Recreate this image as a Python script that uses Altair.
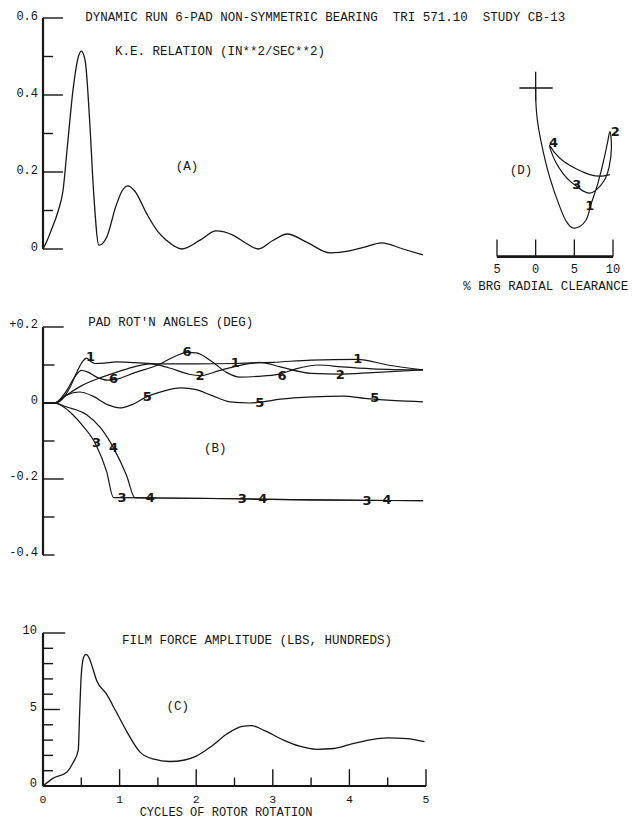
import altair as alt
import pandas as pd

# ---------------- text ----------------
NB = "\u00a0"
TITLE = f"DYNAMIC RUN 6-PAD NON-SYMMETRIC BEARING{NB}{NB}TRI 571.10{NB}{NB}STUDY CB-13"
A_TITLE = "K.E. RELATION (IN**2/SEC**2)"
B_TITLE = "PAD ROT'N ANGLES (DEG)"
C_TITLE = "FILM FORCE AMPLITUDE (LBS, HUNDREDS)"
X_TITLE = "CYCLES OF ROTOR ROTATION"
D_TITLE = "% BRG RADIAL CLEARANCE"

# ---------------- panel A : K.E. relation ----------------
A_X = [0, 0.05, 0.1, 0.2, 0.26, 0.32, 0.39, 0.45, 0.5, 0.55, 0.61, 0.66, 0.73, 0.83, 0.95,
       1.03, 1.11, 1.2, 1.35, 1.5, 1.61, 1.81, 2.05, 2.26, 2.48, 2.65, 2.81, 3.0, 3.19, 3.44,
       3.75, 4.0, 4.2, 4.42, 4.7, 4.96]
A_Y = [0, 0.02, 0.045, 0.1, 0.15, 0.27, 0.41, 0.49, 0.514, 0.49, 0.33, 0.15, 0.01, 0.03, 0.11,
       0.15, 0.164, 0.15, 0.093, 0.045, 0.023, 0.0, 0.023, 0.047, 0.036, 0.015, 0.0, 0.022, 0.039, 0.018,
       -0.01, -0.005, 0.005, 0.016, 0.0, -0.015]
A_TICKS = [0, 0.1, 0.2, 0.3, 0.4, 0.5, 0.6]
A_LABELS = ["0", "0.2", "0.4", "0.6"]
A_LABEL_V = [0, 0.2, 0.4, 0.6]

# ---------------- panel B : pad rotation angles ----------------
B1_X = [0, 0.15, 0.25, 0.35, 0.45, 0.52, 0.57, 0.62, 0.68, 0.8, 0.95, 1.2, 1.5, 2.0, 2.5, 3.0, 3.5, 4.1, 4.5, 4.96]
B1_Y = [0, 0, 0.01, 0.04, 0.085, 0.11, 0.118, 0.11, 0.104, 0.105, 0.108, 0.106, 0.103, 0.103, 0.104, 0.107, 0.113, 0.115, 0.1, 0.087]
B2_X = [0, 0.15, 0.3, 0.5, 0.8, 1.1, 1.4, 1.65, 1.92, 2.05, 2.3, 2.66, 2.83, 3.1, 3.5, 3.88, 4.3, 4.96]
B2_Y = [0, 0, 0.02, 0.045, 0.07, 0.09, 0.103, 0.092, 0.075, 0.072, 0.085, 0.103, 0.107, 0.095, 0.078, 0.076, 0.08, 0.087]
B6_X = [0, 0.15, 0.3, 0.42, 0.5, 0.58, 0.7, 0.85, 0.95, 1.2, 1.5, 1.75, 1.88, 2.0, 2.2, 2.4, 2.57, 2.8, 3.09, 3.3, 3.6, 3.9, 4.3, 4.96]
B6_Y = [0, 0, 0.03, 0.07, 0.086, 0.082, 0.068, 0.06, 0.062, 0.08, 0.1, 0.125, 0.133, 0.132, 0.11, 0.08, 0.068, 0.07, 0.076, 0.09, 0.1, 0.095, 0.09, 0.087]
B5_X = [0, 0.15, 0.3, 0.48, 0.65, 0.85, 1.0, 1.15, 1.35, 1.55, 1.8, 2.0, 2.2, 2.44, 2.7, 2.83, 3.1, 3.52, 3.92, 4.2, 4.6, 4.96]
B5_Y = [0, 0, 0.02, 0.029, 0.018, -0.005, -0.013, -0.005, 0.016, 0.03, 0.04, 0.035, 0.02, 0.003, 0.0, 0.002, 0.01, 0.016, 0.018, 0.012, 0.006, 0.003]
B3_X = [0, 0.15, 0.25, 0.39, 0.52, 0.68, 0.83, 0.92, 1.5, 2.5, 3.5, 4.96]
B3_Y = [0, 0, -0.008, -0.031, -0.06, -0.105, -0.18, -0.249, -0.25, -0.252, -0.255, -0.257]
B4_X = [0, 0.15, 0.3, 0.57, 0.75, 0.92, 1.09, 1.2, 1.5, 2.5, 3.5, 4.96]
B4_Y = [0, 0, -0.01, -0.031, -0.065, -0.118, -0.19, -0.249, -0.25, -0.252, -0.255, -0.257]
B_SERIES = {"1": (B1_X, B1_Y), "2": (B2_X, B2_Y), "3": (B3_X, B3_Y),
            "4": (B4_X, B4_Y), "5": (B5_X, B5_Y), "6": (B6_X, B6_Y)}
B_MARK_TXT = ["1", "1", "1", "6", "6", "6", "2", "2", "5", "5", "5", "3", "3", "3", "3", "4", "4", "4", "4"]
B_MARK_X = [0.62, 2.51, 4.11, 0.92, 1.88, 3.12, 2.05, 3.88, 1.36, 2.83, 4.33, 0.70, 1.03, 2.6, 4.23, 0.92, 1.40, 2.87, 4.49]
B_MARK_Y = [0.121, 0.105, 0.115, 0.063, 0.133, 0.072, 0.07, 0.074, 0.016, 0.0, 0.013, -0.105, -0.25, -0.252, -0.257, -0.118, -0.25, -0.253, -0.255]
B_TICKS = [-0.4, -0.3, -0.2, -0.1, 0, 0.1, 0.2]
B_LABELS = ["-0.4", "-0.2", "0", "+0.2"]
B_LABEL_V = [-0.4, -0.2, 0, 0.2]

# ---------------- panel C : film force amplitude ----------------
C_X = [0, 0.13, 0.31, 0.39, 0.46, 0.48, 0.5, 0.53, 0.56, 0.6, 0.63, 0.7, 0.83, 0.95, 1.1, 1.27, 1.45,
       1.65, 1.85, 2.0, 2.2, 2.4, 2.6, 2.72, 2.9, 3.14, 3.35, 3.57, 3.8, 4.0, 4.25, 4.5, 4.75, 4.98]
C_Y = [0, 0.5, 0.9, 1.5, 2.35, 5.0, 7.3, 8.4, 8.6, 8.4, 8.0, 6.9, 6.0, 4.9, 3.5, 2.2, 1.75,
       1.6, 1.7, 1.95, 2.6, 3.4, 3.9, 3.95, 3.6, 3.0, 2.6, 2.4, 2.45, 2.7, 3.0, 3.15, 3.1, 2.9]
C_TICKS = [0, 1, 2, 3, 4, 5, 6, 7, 8, 9, 10]
C_LABELS = ["0", "5", "10"]
C_LABEL_V = [0, 5, 10]
X_TICKS = [0.5, 1, 1.5, 2, 2.5, 3, 3.5, 4, 4.5, 5]
X_LABELS = ["0", "1", "2", "3", "4", "5"]
X_LABEL_V = [0, 1, 2, 3, 4, 5]

# ---------------- panel D : journal orbit ----------------
D_X = [0, 0.0, 0.2, 0.73, 1.8, 3.1, 4.0, 4.8, 5.7, 6.5, 7.2, 8.05, 8.9, 9.3, 9.6, 9.8, 9.5, 8.9,
       7.8, 7.0, 6.1, 5.3, 4.4, 3.5, 2.6, 2.0, 1.8, 2.4, 3.4, 4.8, 6.0, 7.0, 8.3, 9.6]
D_Y = [0, -1.2, -4.0, -7.1, -11.5, -15.3, -17.3, -18.1, -17.9, -17.1, -14.9, -12.3, -8.9, -7.0, -5.6, -7.6, -10.2, -11.9,
       -13.2, -13.6, -13.3, -12.7, -12.0, -11.0, -9.6, -8.2, -7.4, -8.3, -9.3, -10.2, -10.8, -11.2, -11.4, -11.2]
D_MARK_TXT = ["1", "2", "3", "4"]
D_MARK_X = [7.0, 10.3, 5.3, 2.3]
D_MARK_Y = [-15.3, -5.7, -12.6, -7.1]
D_TICKS = [-5, 0, 5, 10]
D_LABELS = ["5", "0", "5", "10"]

# ---------------- styling / scales ----------------
INK = "#161616"
MONO = "Liberation Mono"
HAND = "DejaVu Sans"


def sc(dom, rng):
    return alt.Scale(domain=dom, range=rng, nice=False, zero=False)


XS = lambda: sc([0, 5], [43, 426])
YA = lambda: sc([0, 0.6], [249, 18])
YB = lambda: sc([-0.4, 0.2], [555, 327])
YC = lambda: sc([0, 10], [786, 633])
XD = lambda: sc([-5, 10], [497, 613])
YD = lambda: sc([-20, 0], [242.7, 88])


def enc(xs, ys, x2=False, y2=False, text=False):
    e = dict(x=alt.X("x:Q", scale=xs, axis=None), y=alt.Y("y:Q", scale=ys, axis=None))
    if x2:
        e["x2"] = alt.X2("x2:Q")
    if y2:
        e["y2"] = alt.Y2("y2:Q")
    if text:
        e["text"] = alt.Text("t:N")
    return e


layers = []


def curve(xv, yv, xs, ys, width=1.3, interp="monotone", ordered=False, series=None):
    df = pd.DataFrame({"x": xv, "y": yv, "i": list(range(len(xv)))})
    if series is not None:
        df["s"] = series
    e = enc(xs, ys)
    if ordered:
        e["order"] = alt.Order("i:Q")
    if series is not None:
        e["detail"] = alt.Detail("s:N")
    layers.append(alt.Chart(df).mark_line(color=INK, strokeWidth=width, interpolate=interp).encode(**e))


def rules(rows, xs, ys, width=1.4, vertical=False):
    df = pd.DataFrame(rows)
    layers.append(alt.Chart(df).mark_rule(color=INK, strokeWidth=width)
                  .encode(**enc(xs, ys, x2=not vertical, y2=vertical)))


def texts(tv, xv, yv, xs, ys, font=MONO, size=12.5, align="left", weight="normal", dy=0):
    df = pd.DataFrame({"t": tv, "x": xv, "y": yv})
    layers.append(alt.Chart(df).mark_text(font=font, fontSize=size, align=align, baseline="middle",
                                          color=INK, fontWeight=weight, dy=dy)
                  .encode(**enc(xs, ys, text=True)))


# ---- panel A ----
rules([{"x": 0, "y": 0, "y2": 0.6}], XS(), YA(), width=2.2, vertical=True)
rules([{"x": 0, "x2": (0.26 if round(v * 10) % 2 == 0 else 0.13), "y": v} for v in A_TICKS], XS(), YA())
curve(A_X, A_Y, XS(), YA())
texts(A_LABELS, [-0.065] * len(A_LABELS), A_LABEL_V, XS(), YA(), size=12, align="right", dy=-2)
texts([TITLE], [0.55], [0.6], XS(), YA(), dy=-1)
texts([A_TITLE], [0.94], [0.514], XS(), YA())
texts(["(A)"], [1.88], [0.216], XS(), YA(), align="center")

# ---- panel B ----
rules([{"x": 0, "y": -0.4, "y2": 0.2}], XS(), YB(), width=2.2, vertical=True)
rules([{"x": 0, "x2": (0.27 if abs(v) > 0.15 and v > -0.3 else 0.15), "y": v} for v in B_TICKS], XS(), YB())
bx, by, bs = [], [], []
for k, (xv, yv) in B_SERIES.items():
    bx += xv
    by += yv
    bs += [k] * len(xv)
curve(bx, by, XS(), YB(), width=1.2, series=bs)
texts(B_MARK_TXT, B_MARK_X, B_MARK_Y, XS(), YB(), font=HAND, size=13, align="center", weight="bold")
texts(B_LABELS, [-0.065] * len(B_LABELS), B_LABEL_V, XS(), YB(), size=12, align="right", dy=-3)
texts([B_TITLE], [0.59], [0.213], XS(), YB())
texts(["(B)"], [2.25], [-0.118], XS(), YB(), align="center")

# ---- panel C ----
rules([{"x": 0, "y": 0, "y2": 10}], XS(), YC(), width=2.2, vertical=True)
rules([{"x": 0, "x2": 5, "y": 0}], XS(), YC(), width=2.0)
rules([{"x": 0, "x2": (0.29 if v == 10 else 0.22 if v == 5 else 0.13), "y": v} for v in C_TICKS], XS(), YC())
rules([{"x": v, "y": 0, "y2": (1.1 if float(v).is_integer() else 0.55)} for v in X_TICKS], XS(), YC(), vertical=True)
curve(C_X, C_Y, XS(), YC())
texts(C_LABELS, [-0.08] * len(C_LABELS), C_LABEL_V, XS(), YC(), size=12, align="right", dy=-3)
texts(X_LABELS, X_LABEL_V, [-0.9] * len(X_LABELS), XS(), YC(), size=11.5, align="center")
texts([X_TITLE], [2.39], [-1.68], XS(), YC(), size=12, align="center")
texts([C_TITLE], [1.03], [9.54], XS(), YC())
texts(["(C)"], [1.76], [5.2], XS(), YC(), align="center")

# ---- panel D ----
rules([{"x": -2.1, "x2": 2.2, "y": 0}], XD(), YD(), width=1.3)
rules([{"x": 0, "y": 2.1, "y2": -1.6}], XD(), YD(), width=1.3, vertical=True)
rules([{"x": -5, "x2": 10, "y": -21.8}], XD(), YD(), width=2.6)
rules([{"x": v, "y": -21.8, "y2": -19.6} for v in D_TICKS], XD(), YD(), width=1.3, vertical=True)
curve(D_X, D_Y, XD(), YD(), width=1.2, interp="catmull-rom", ordered=True)
texts(D_MARK_TXT, D_MARK_X, D_MARK_Y, XD(), YD(), font=HAND, size=13, align="center", weight="bold")
texts(D_LABELS, D_TICKS, [-23.4] * len(D_TICKS), XD(), YD(), size=12, align="center")
texts([D_TITLE], [1.3], [-25.6], XD(), YD(), align="center")
texts(["(D)"], [-1.9], [-10.6], XD(), YD(), align="center")

chart = (
    alt.layer(*layers)
    .resolve_scale(x="independent", y="independent")
    .properties(width=635, height=820, padding=0, autosize=alt.AutoSizeParams(type="none"),
                background="white")
    .configure_view(stroke=None)
)

chart.save("out.html", embed_options={"renderer": "svg", "actions": False})
